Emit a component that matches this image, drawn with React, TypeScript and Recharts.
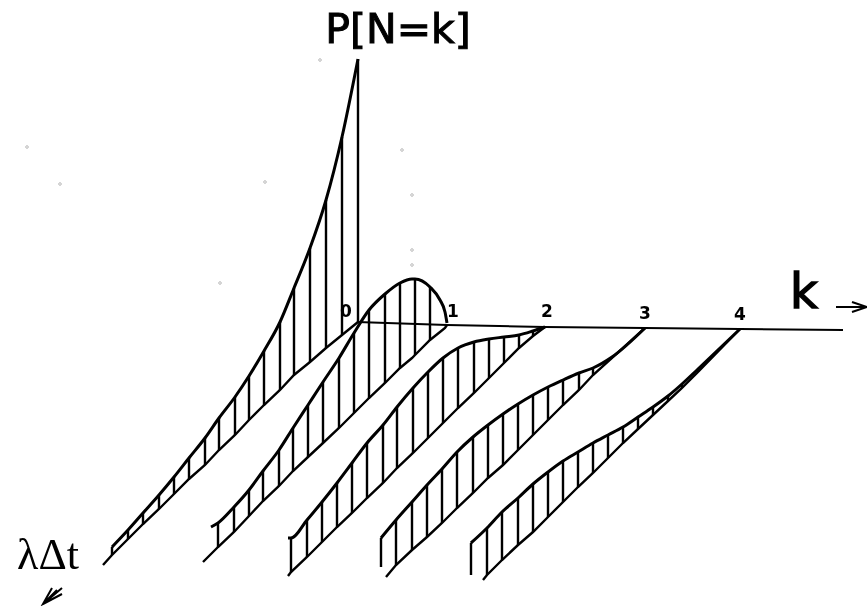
import React from "react";
import { ComposedChart, Line, XAxis, YAxis, ReferenceDot, Scatter } from "recharts";

const W = 867;
const H = 606;

const axisX = [357, 447, 545, 645, 740, 843];
const axisY = [322, 325, 327, 328, 329, 330];
const axisLabels = ["0", "1", "2", "3", "4"];
const axisLabelX = [346, 453, 547, 645, 740];
const axisLabelY = [311, 311, 311, 313, 314];

const x0 = [112, 128, 143, 159, 174, 189, 205, 219, 235, 249, 264, 280, 294, 310, 326, 342, 358];
const top0 = [547, 530, 513, 495, 477, 458, 438, 418, 397, 376, 351, 322, 288, 248, 200, 137, 59];
const base0 = [555, 539, 524, 509, 494, 479, 465, 450, 435, 420, 405, 390, 375, 362, 348, 335, 322];
const tail0 = [103, 565];
const head0 = [358, 322];

const x1 = [218, 234, 249, 263, 279, 293, 308, 323, 339, 354, 369, 385, 400, 412, 415, 430, 440, 445];
const top1 = [523, 507, 490, 471, 450, 428, 405, 382, 358, 333, 310, 294, 283, 279, 279, 287, 300, 312];
const base1 = [547, 532, 516, 501, 486, 471, 457, 443, 428, 413, 398, 383, 368, 358, 355, 340, 332, 328];
const hatchSkip1 = [412, 440, 445];
const ridgeStart1 = [211, 527];
const ridgeEnd1 = [447, 323];
const tail1 = [203, 562];
const head1 = [447, 325];

const x2 = [291, 307, 322, 337, 352, 367, 383, 397, 413, 428, 443, 458, 474, 489, 504, 519, 533];
const top2 = [538, 520, 502, 483, 463, 443, 425, 407, 388, 372, 358, 348, 342, 339, 337, 335, 331];
const base2 = [572, 557, 542, 527, 513, 498, 483, 468, 453, 438, 423, 408, 393, 378, 363, 348, 336];
const ridgeStart2 = [288, 538];
const ridgeEnd2 = [545, 327];
const tail2 = [288, 576];
const head2 = [545, 327];

const x3 = [381, 396, 412, 427, 442, 457, 473, 488, 503, 518, 533, 548, 563, 579, 593];
const top3 = [538, 520, 502, 485, 469, 452, 437, 425, 414, 404, 395, 387, 380, 373, 368];
const base3 = [567, 565, 550, 537, 523, 508, 493, 478, 465, 450, 435, 420, 405, 390, 375];
const ridgeEnd3 = [[612, 357], [645, 328]];
const tail3 = [386, 577];
const head3 = [645, 328];

const x4 = [471, 487, 502, 518, 533, 548, 563, 578, 593, 608, 623, 638, 653, 668, 682, 698];
const top4 = [543, 528, 512, 498, 484, 472, 461, 452, 443, 435, 427, 417, 407, 396, 384, 369];
const base4 = [575, 575, 560, 545, 532, 517, 502, 487, 473, 458, 443, 429, 415, 401, 388, 372];
const tail4 = [483, 580];
const head4 = [740, 329];

const speckX = [27, 60, 265, 402, 412, 412, 412, 220, 320];
const speckY = [147, 184, 182, 150, 195, 250, 265, 283, 60];

const arrowKX = [836, 867, 852, 867, 852];
const arrowKY = [307, 307, 302, 307, 312];
const arrowLX = [62, 43, 52, 43, 62, 43, 57];
const arrowLY = [588, 604, 588, 604, 594, 604, 590];

const pts = (xs: number[], ys: number[]) => xs.map((x, i) => ({ x, y: ys[i] }));
const pair = (p: number[]) => ({ x: p[0], y: p[1] });
const hatch = (xs: number[], tops: number[], bases: number[], skip: number[] = []) =>
  xs.flatMap((x, i) => (skip.includes(x) ? [] : [{ x, y: tops[i] }, { x, y: bases[i] }, { x, y: null }]));

const ridges = [
  pts(x0, top0),
  [pair(ridgeStart1), ...pts(x1, top1), pair(ridgeEnd1)],
  [pair(ridgeStart2), ...pts(x2, top2), pair(ridgeEnd2)],
  [...pts(x3, top3), ...ridgeEnd3.map(pair)],
  [...pts(x4, top4), pair(head4)],
];
const bases = [
  [pair(tail0), ...pts(x0, base0), pair(head0)],
  [pair(tail1), ...pts(x1, base1), pair(head1)],
  [pair(tail2), ...pts(x2, base2), pair(head2)],
  [pair(tail3), ...pts(x3.slice(1), base3.slice(1)), pair(head3)],
  [pair(tail4), ...pts(x4.slice(1), base4.slice(1)), pair(head4)],
];
const hatches = [
  hatch(x0, top0, base0),
  hatch(x1, top1, base1, hatchSkip1),
  hatch(x2, top2, base2),
  hatch(x3, top3, base3),
  hatch(x4, top4, base4),
];

const INK = "#000";

const thin = (key: string, data: any[], w = 2, type: any = "linear") => (
  <Line
    key={key}
    data={data}
    dataKey="y"
    type={type}
    stroke={INK}
    strokeWidth={w}
    dot={false}
    activeDot={false}
    legendType="none"
    isAnimationActive={false}
  />
);

const word = (text: string, x: number, y: number, size: number, family: string, weight: any = 400, bold = 0) => (
  <ReferenceDot
    key={text}
    x={x}
    y={y}
    r={0}
    stroke="none"
    fill="none"
    label={{
      value: text,
      position: "center",
      fontSize: size,
      fontFamily: family,
      fontWeight: weight,
      fill: "#000",
      stroke: "#000",
      strokeWidth: bold,
    }}
  />
);

const speck = (p: any) => <circle cx={p.cx} cy={p.cy} r={1.3} fill="none" stroke="#aaa" strokeWidth={0.8} />;

export default function App() {
  return (
    <div style={{ position: "absolute", left: 0, top: 0, width: W, height: H, background: "#fff", filter: "blur(0.45px)" }}>
      <ComposedChart width={W} height={H} margin={{ top: 0, right: 0, bottom: 0, left: 0 }}>
        <XAxis type="number" dataKey="x" domain={[0, W]} hide />
        <YAxis type="number" domain={[0, H]} reversed hide />
        {hatches.map((d, i) => thin(`h${i}`, d, 2.4))}
        {bases.map((d, i) => thin(`b${i}`, d, 2.4))}
        {ridges.map((d, i) => thin(`r${i}`, d, 3, "monotone"))}
        {thin("axis", pts(axisX, axisY), 2)}
        {thin("ak", pts(arrowKX, arrowKY), 2)}
        {thin("al", pts(arrowLX, arrowLY), 2)}
        <Scatter data={pts(speckX, speckY)} dataKey="y" shape={speck} isAnimationActive={false} legendType="none" />
        {axisLabels.map((t, i) => word(t, axisLabelX[i], axisLabelY[i], 17, "'DejaVu Sans', sans-serif", 700))}
        {word("P[N=k]", 398, 28, 41, "'DejaVu Sans', sans-serif", 400, 1)}
        {word("k", 804, 291, 48, "'DejaVu Sans', sans-serif", 400, 1.5)}
        {word("λΔt", 48, 553, 44, "'Liberation Serif', serif")}
      </ComposedChart>
    </div>
  );
}
